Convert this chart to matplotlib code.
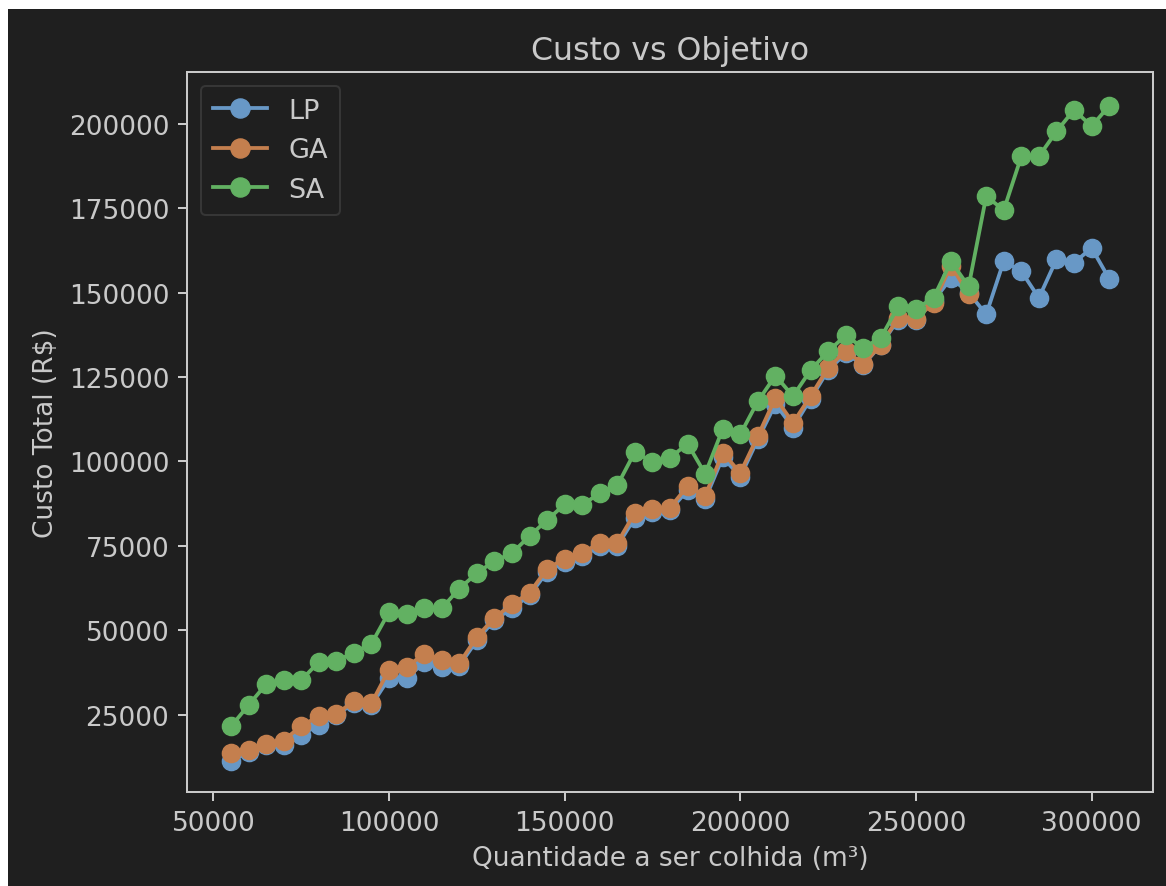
import matplotlib
matplotlib.use("Agg")
import matplotlib.pyplot as plt
from matplotlib.patches import Rectangle

# quantidade a ser colhida (m3)
quantidade = [55000, 60000, 65000, 70000, 75000, 80000, 85000, 90000, 95000, 100000,
              105000, 110000, 115000, 120000, 125000, 130000, 135000, 140000, 145000, 150000,
              155000, 160000, 165000, 170000, 175000, 180000, 185000, 190000, 195000, 200000,
              205000, 210000, 215000, 220000, 225000, 230000, 235000, 240000, 245000, 250000,
              255000, 260000, 265000, 270000, 275000, 280000, 285000, 290000, 295000, 300000,
              305000]

custo_lp = [11200, 14000, 16000, 16000, 19000, 22000, 24800, 28500, 27800, 35800,
            35800, 40500, 39200, 39500, 47000, 53000, 56500, 60300, 67300, 70300,
            72000, 74800, 75000, 83300, 85000, 85500, 91500, 88800, 101200, 95500,
            106500, 117000, 110000, 118500, 127000, 132000, 128500, 134500, 142000, 142000,
            147500, 154300, 150000, 143500, 159300, 156300, 148400, 159800, 158800, 163200,
            154100]

# GA so vai ate 265000
quantidade_ga = quantidade[:43]
custo_ga = [13600, 14600, 16300, 17300, 21700, 24500, 25100, 29100, 28400, 38300,
            39000, 43100, 41200, 40200, 48000, 53700, 57700, 61100, 68200, 71200,
            72800, 75900, 75900, 84800, 85800, 86300, 92700, 89800, 102600, 96600,
            107500, 118800, 111400, 119300, 127700, 132800, 128700, 134600, 142500, 142200,
            147000, 158000, 149500]

custo_sa = [21500, 27800, 34000, 35200, 35200, 40600, 40900, 43400, 46000, 55400,
            54700, 56700, 56500, 62300, 66900, 70500, 72800, 77900, 82600, 87300,
            87000, 90700, 92900, 102800, 99800, 101100, 105200, 96300, 109600, 108000,
            117800, 125400, 119300, 127000, 132600, 137300, 133600, 136600, 145900, 145200,
            148400, 159200, 151800, 178500, 174400, 190300, 190300, 197700, 204100, 199200,
            205300]

bg = '#1f1f1f'
fg = '#c9c9c9'
s = 1.82   # escala das linhas
f = 1.9    # escala das fontes

fig = plt.figure(figsize=(11.66, 8.87), dpi=100, facecolor='white')
fig.patches.append(Rectangle((8 / 1166, 0), 1, 1 - 10 / 887, transform=fig.transFigure,
                             facecolor=bg, edgecolor='none', zorder=-1))
ax = fig.add_axes([0.1604, 0.1060, 0.8285, 0.8117])
ax.set_facecolor(bg)

ax.plot(quantidade, custo_lp, '-o', color='#6898c6', lw=1.5 * s, ms=7.2 * s, label='LP')
ax.plot(quantidade_ga, custo_ga, '-o', color='#c47f4e', lw=1.5 * s, ms=7.2 * s, label='GA')
ax.plot(quantidade, custo_sa, '-o', color='#62b162', lw=1.5 * s, ms=7.2 * s, label='SA')

ax.set_xlim(42500, 317500)
ax.set_ylim(2100, 215300)
ax.set_xticks([50000, 100000, 150000, 200000, 250000, 300000])
ax.set_yticks([25000, 50000, 75000, 100000, 125000, 150000, 175000, 200000])

ax.set_title('Custo vs Objetivo', color=fg, fontsize=12 * f, pad=5 * s)
ax.set_xlabel('Quantidade a ser colhida (m³)', color=fg, fontsize=10 * f, labelpad=3.5 * s)
ax.set_ylabel('Custo Total (R$)', color=fg, fontsize=10 * f, labelpad=4 * s)
ax.tick_params(colors=fg, labelsize=10 * f, length=3.5 * s, width=0.8 * s, pad=3.5 * s)
for sp in ax.spines.values():
    sp.set_color(fg)
    sp.set_linewidth(0.8 * s)

leg = ax.legend(loc='upper left', fontsize=10 * 1.95, facecolor=bg, edgecolor='#3c3c3c',
                labelcolor=fg, borderpad=0.45, handlelength=2.0, markerscale=1.05)
leg.get_frame().set_linewidth(0.8 * s)

fig.savefig('out.png', dpi=100, facecolor=fig.get_facecolor())
